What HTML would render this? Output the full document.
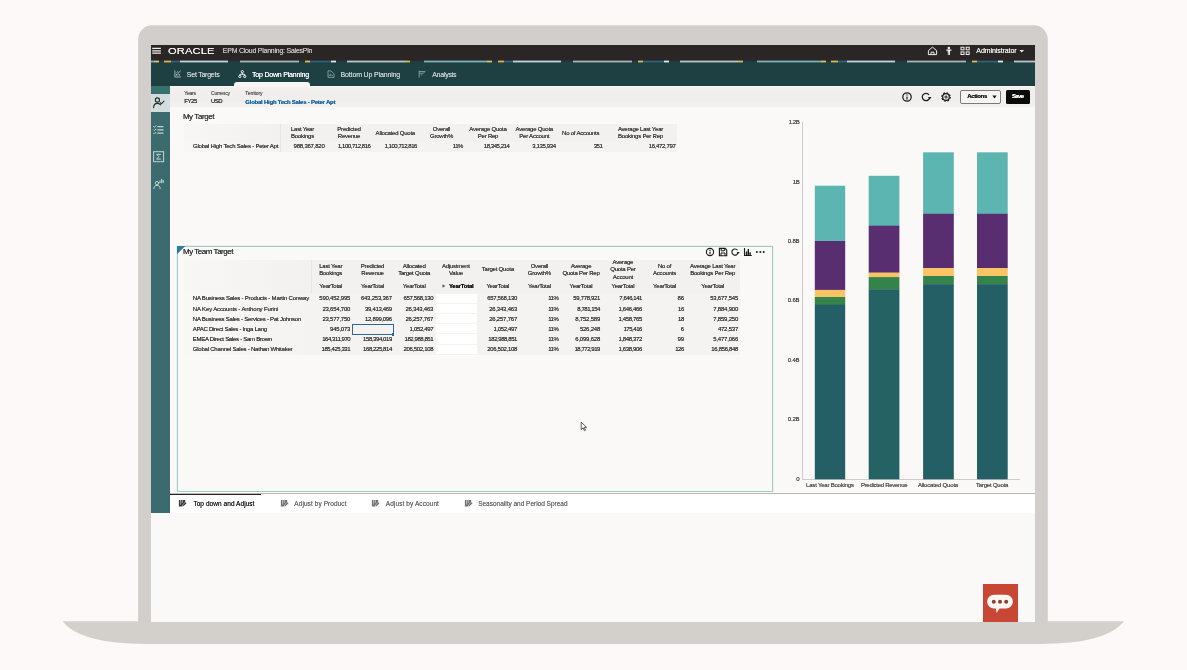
<!DOCTYPE html>
<html lang="en"><head><meta charset="utf-8"><title>EPM Cloud Planning: SalesPln</title>
<style>
html,body{margin:0;padding:0}
body{width:1187px;height:670px;overflow:hidden;position:relative;background:#fcf9f8;font-family:"Liberation Sans", sans-serif;}
#stage{position:absolute;left:0;top:0;width:1187px;height:670px;overflow:hidden}
#stage div,#stage .abs{position:absolute}
.t{position:absolute;white-space:nowrap;line-height:1;text-shadow:0 0 0.3px currentColor;}
.b{text-shadow:0 0 0.2px currentColor}
</style></head><body><div id="stage">
<svg class="abs" style="left:0px;top:0px" width="1187" height="670" viewBox="0 0 1187 670">
<path d="M138.2 622 V39.3 A14 14 0 0 1 152.2 25.3 H1033.8 A14 14 0 0 1 1047.8 39.3 V622 Z" fill="#d2cecb"/>
<path d="M62.5 621.3 H1124 Q1106.5 644 1040.5 644 H146 Q80 644 62.5 621.3 Z" fill="#d3d0cb"/></svg>
<div style="left:151px;top:45px;width:884px;height:576.5px;background:#faf9f7;"></div>
<div style="left:151px;top:45px;width:884px;height:17px;background:#2a2625;"></div>
<div style="left:151px;top:62px;width:884px;height:23.6px;background:#1f4043;"></div>
<div style="left:151px;top:60px;width:884px;height:3px;background:repeating-linear-gradient(90deg,#7fb0b8 0px 3px,#dcc566 3px 8px,#1f3a40 8px 13px,#e0b24e 13px 20px,#33607c 20px 29px,#c3d5dc 29px 77px,#1f3a40 77px 89px,#a9b5b6 89px 148px,#1f3a40 148px 154px,#dcbc55 154px 159px,#2f6076 159px 180px,#dfe8e8 180px 185px,#1f3a40 185px 196px,#b9c8c9 196px 254px,#dcbc55 254px 259px,#1f3a40 259px 273px,#7fb0b8 273px 333.5px);opacity:.4;"></div>
<div style="left:151px;top:61px;width:884px;height:1px;background:repeating-linear-gradient(90deg,#7fb0b8 0px 3px,#dcc566 3px 8px,#1f3a40 8px 13px,#e0b24e 13px 20px,#33607c 20px 29px,#c3d5dc 29px 77px,#1f3a40 77px 89px,#a9b5b6 89px 148px,#1f3a40 148px 154px,#dcbc55 154px 159px,#2f6076 159px 180px,#dfe8e8 180px 185px,#1f3a40 185px 196px,#b9c8c9 196px 254px,#dcbc55 254px 259px,#1f3a40 259px 273px,#7fb0b8 273px 333.5px);"></div>
<div style="left:233.5px;top:82.4px;width:76.5px;height:3.2px;background:#f6f5f3;border-radius:3px 3px 0 0;"></div>
<div style="left:170px;top:85.7px;width:865px;height:21.8px;background:linear-gradient(#fbfaf9 0,#f1f0ee 10%,#efeeec 65%,#f3f2f0 100%);"></div>
<div style="left:151px;top:85.7px;width:19px;height:427.3px;background:#3b6b6e;"></div>
<div style="left:151px;top:85.7px;width:19px;height:7.8px;background:#38706d;"></div>
<div style="left:151px;top:93.5px;width:19px;height:18.3px;background:#d4dddd;"></div>
<span class="t" style="left:168.4px;top:45px;font-size:8.4px;line-height:13px;color:#f4f2f0;letter-spacing:0.1px;transform-origin:0 50%;transform:scaleX(1.33);">ORACLE</span>
<span class="t b" style="left:222.8px;top:47px;font-size:7px;color:#c4c1be;letter-spacing:-0.24px;">EPM Cloud Planning: SalesPln</span>
<span class="t" style="left:976.3px;top:47px;font-size:7px;color:#eeecea;letter-spacing:-0.08px;">Administrator</span>
<span class="t" style="left:186.8px;top:71px;font-size:7px;color:#c3cece;letter-spacing:-0.235px;">Set Targets</span>
<span class="t" style="left:252px;top:71px;font-size:7px;color:#ffffff;letter-spacing:-0.202px;">Top Down Planning</span>
<span class="t" style="left:340.6px;top:71px;font-size:7px;color:#c3cece;letter-spacing:-0.159px;">Bottom Up Planning</span>
<span class="t" style="left:432.2px;top:71px;font-size:7px;color:#c3cece;letter-spacing:-0.235px;">Analysis</span>
<span class="t" style="left:184.2px;top:91px;font-size:5px;color:#585858;letter-spacing:-0.182px;">Years</span>
<span class="t" style="left:184.2px;top:98px;font-size:6px;color:#333;letter-spacing:-0.411px;">FY25</span>
<span class="t" style="left:211px;top:91px;font-size:5px;color:#585858;letter-spacing:-0.187px;">Currency</span>
<span class="t" style="left:211px;top:98px;font-size:6px;color:#333;letter-spacing:-0.491px;">USD</span>
<span class="t" style="left:245.3px;top:91px;font-size:5px;color:#585858;letter-spacing:-0.096px;">Territory</span>
<span class="t b" style="left:245.3px;top:99px;font-size:6px;color:#1c6aa3;font-weight:700;letter-spacing:-0.239px;">Global High Tech Sales - Peter Apt</span>
<div style="left:960.2px;top:89.8px;width:40.8px;height:13.9px;background:#f6f5f3;border:1px solid #7b7977;border-radius:2px;box-sizing:border-box;"></div>
<span class="t b" style="left:967.2px;top:93px;font-size:6px;color:#1c1c1c;font-weight:700;letter-spacing:-0.317px;">Actions</span>
<svg class="abs" style="left:991.5px;top:95.3px" width="5" height="4" viewBox="0 0 5 4"><path d="M0.3 0.5H4.7L2.5 3.5Z" fill="#1c1c1c"/></svg>
<div style="left:1005.8px;top:89.8px;width:23.8px;height:13.9px;background:#0a0a0a;border-radius:1.5px;"></div>
<span class="t b" style="left:1011.9px;top:93px;font-size:6px;color:#fff;font-weight:700;letter-spacing:-0.629px;">Save</span>
<span class="t b" style="left:182.9px;top:113px;font-size:8px;color:#383838;letter-spacing:-0.432px;">My Target</span>
<div style="left:183.5px;top:124px;width:493.3px;height:28.3px;background:#f2f1ef;"></div>
<div style="left:183.5px;top:124px;width:96.5px;height:28.3px;background:linear-gradient(90deg,#f7f6f4,#f2f1ef);"></div>
<div style="left:183.5px;top:141.8px;width:493.3px;height:10.5px;background:rgba(255,255,255,0.18);"></div>
<div style="left:279.6px;top:124px;width:0.8px;height:28.3px;background:#e6e5e3;"></div>
<span class="t" style="left:193px;top:143px;font-size:6px;color:#383838;letter-spacing:-0.208px;">Global High Tech Sales - Peter Apt</span>
<span class="t" style="left:302.5px;top:126px;font-size:6px;color:#383838;letter-spacing:-0.222px;transform:translateX(-50%);">Last Year</span>
<span class="t" style="left:302.5px;top:133px;font-size:6px;color:#383838;letter-spacing:-0.222px;transform:translateX(-50%);">Bookings</span>
<span class="t" style="left:349px;top:126px;font-size:6px;color:#383838;letter-spacing:-0.222px;transform:translateX(-50%);">Predicted</span>
<span class="t" style="left:349px;top:133px;font-size:6px;color:#383838;letter-spacing:-0.222px;transform:translateX(-50%);">Revenue</span>
<span class="t" style="left:395.3px;top:130px;font-size:6px;color:#383838;letter-spacing:-0.222px;transform:translateX(-50%);">Allocated Quota</span>
<span class="t" style="left:441.5px;top:126px;font-size:6px;color:#383838;letter-spacing:-0.222px;transform:translateX(-50%);">Overall</span>
<span class="t" style="left:441.5px;top:133px;font-size:6px;color:#383838;letter-spacing:-0.222px;transform:translateX(-50%);">Growth%</span>
<span class="t" style="left:488px;top:126px;font-size:6px;color:#383838;letter-spacing:-0.222px;transform:translateX(-50%);">Average Quota</span>
<span class="t" style="left:488px;top:133px;font-size:6px;color:#383838;letter-spacing:-0.222px;transform:translateX(-50%);">Per Rep</span>
<span class="t" style="left:534.3px;top:126px;font-size:6px;color:#383838;letter-spacing:-0.222px;transform:translateX(-50%);">Average Quota</span>
<span class="t" style="left:534.3px;top:133px;font-size:6px;color:#383838;letter-spacing:-0.222px;transform:translateX(-50%);">Per Account</span>
<span class="t" style="left:580.7px;top:130px;font-size:6px;color:#383838;letter-spacing:-0.222px;transform:translateX(-50%);">No of Accounts</span>
<span class="t" style="left:640.5px;top:126px;font-size:6px;color:#383838;letter-spacing:-0.222px;transform:translateX(-50%);">Average Last Year</span>
<span class="t" style="left:640.5px;top:133px;font-size:6px;color:#383838;letter-spacing:-0.222px;transform:translateX(-50%);">Bookings Per Rep</span>
<span class="t" style="left:324.5px;top:143px;font-size:6px;color:#383838;letter-spacing:-0.224px;transform:translateX(-100%);">988,367,820</span>
<span class="t" style="left:370.5px;top:143px;font-size:6px;color:#383838;letter-spacing:-0.45px;transform:translateX(-100%);">1,100,712,816</span>
<span class="t" style="left:417px;top:143px;font-size:6px;color:#383838;letter-spacing:-0.45px;transform:translateX(-100%);">1,100,712,816</span>
<span class="t" style="left:463px;top:143px;font-size:6px;color:#383838;letter-spacing:-0.45px;transform:translateX(-100%);">11%</span>
<span class="t" style="left:509.4px;top:143px;font-size:6px;color:#383838;letter-spacing:-0.446px;transform:translateX(-100%);">18,345,214</span>
<span class="t" style="left:555.8px;top:143px;font-size:6px;color:#383838;letter-spacing:-0.347px;transform:translateX(-100%);">3,135,934</span>
<span class="t" style="left:602.3px;top:143px;font-size:6px;color:#383838;letter-spacing:-0.45px;transform:translateX(-100%);">351</span>
<span class="t" style="left:675.4px;top:143px;font-size:6px;color:#383838;letter-spacing:-0.335px;transform:translateX(-100%);">16,472,797</span>
<div style="left:177px;top:245.5px;width:596.4px;height:246.5px;background:#faf9f7;border:1px solid #a2cbc6;box-sizing:border-box;box-shadow:0 0 1px #a2cbc6;"></div>
<svg class="abs" style="left:177px;top:245.5px" width="9" height="9" viewBox="0 0 9 9"><path d="M0 0H8.3L0 8.3Z" fill="#2a7ea6"/></svg>
<span class="t b" style="left:183px;top:248px;font-size:8px;color:#383838;letter-spacing:-0.473px;">My Team Target</span>
<div style="left:183.5px;top:259.8px;width:556.3px;height:95.7px;background:#f2f1ef;"></div>
<div style="left:183.5px;top:259.8px;width:127.5px;height:95.7px;background:linear-gradient(90deg,#f8f7f5,#f2f1ef);"></div>
<div style="left:183.5px;top:293px;width:556.3px;height:62.5px;background:rgba(255,255,255,0.15);"></div>
<div style="left:310.6px;top:259.8px;width:0.8px;height:33.2px;background:#e6e5e3;"></div>
<span class="t" style="left:330.7px;top:263px;font-size:6px;color:#383838;letter-spacing:-0.222px;transform:translateX(-50%);">Last Year</span>
<span class="t" style="left:330.7px;top:270px;font-size:6px;color:#383838;letter-spacing:-0.222px;transform:translateX(-50%);">Bookings</span>
<span class="t" style="left:372.5px;top:263px;font-size:6px;color:#383838;letter-spacing:-0.222px;transform:translateX(-50%);">Predicted</span>
<span class="t" style="left:372.5px;top:270px;font-size:6px;color:#383838;letter-spacing:-0.222px;transform:translateX(-50%);">Revenue</span>
<span class="t" style="left:414.2px;top:263px;font-size:6px;color:#383838;letter-spacing:-0.222px;transform:translateX(-50%);">Allocated</span>
<span class="t" style="left:414.2px;top:270px;font-size:6px;color:#383838;letter-spacing:-0.222px;transform:translateX(-50%);">Target Quota</span>
<span class="t" style="left:455.9px;top:263px;font-size:6px;color:#383838;letter-spacing:-0.222px;transform:translateX(-50%);">Adjustment</span>
<span class="t" style="left:455.9px;top:270px;font-size:6px;color:#383838;letter-spacing:-0.222px;transform:translateX(-50%);">Value</span>
<span class="t" style="left:497.8px;top:266px;font-size:6px;color:#383838;letter-spacing:-0.222px;transform:translateX(-50%);">Target Quota</span>
<span class="t" style="left:539.4px;top:263px;font-size:6px;color:#383838;letter-spacing:-0.222px;transform:translateX(-50%);">Overall</span>
<span class="t" style="left:539.4px;top:270px;font-size:6px;color:#383838;letter-spacing:-0.222px;transform:translateX(-50%);">Growth%</span>
<span class="t" style="left:581px;top:263px;font-size:6px;color:#383838;letter-spacing:-0.222px;transform:translateX(-50%);">Average</span>
<span class="t" style="left:581px;top:270px;font-size:6px;color:#383838;letter-spacing:-0.222px;transform:translateX(-50%);">Quota Per Rep</span>
<span class="t" style="left:622.9px;top:259px;font-size:6px;color:#383838;letter-spacing:-0.222px;transform:translateX(-50%);">Average</span>
<span class="t" style="left:622.9px;top:266px;font-size:6px;color:#383838;letter-spacing:-0.222px;transform:translateX(-50%);">Quota Per</span>
<span class="t" style="left:622.9px;top:274px;font-size:6px;color:#383838;letter-spacing:-0.222px;transform:translateX(-50%);">Account</span>
<span class="t" style="left:664.5px;top:263px;font-size:6px;color:#383838;letter-spacing:-0.222px;transform:translateX(-50%);">No of</span>
<span class="t" style="left:664.5px;top:270px;font-size:6px;color:#383838;letter-spacing:-0.222px;transform:translateX(-50%);">Accounts</span>
<span class="t" style="left:712.6px;top:263px;font-size:6px;color:#383838;letter-spacing:-0.222px;transform:translateX(-50%);">Average Last Year</span>
<span class="t" style="left:712.6px;top:270px;font-size:6px;color:#383838;letter-spacing:-0.222px;transform:translateX(-50%);">Bookings Per Rep</span>
<span class="t" style="left:330.7px;top:283px;font-size:6px;color:#383838;letter-spacing:-0.222px;transform:translateX(-50%);">YearTotal</span>
<span class="t" style="left:372.5px;top:283px;font-size:6px;color:#383838;letter-spacing:-0.222px;transform:translateX(-50%);">YearTotal</span>
<span class="t" style="left:414.2px;top:283px;font-size:6px;color:#383838;letter-spacing:-0.222px;transform:translateX(-50%);">YearTotal</span>
<span class="t b" style="left:461.2px;top:283px;font-size:6px;color:#111;font-weight:700;letter-spacing:-0.222px;transform:translateX(-50%);">YearTotal</span>
<svg class="abs" style="left:442px;top:284.4px" width="4" height="4" viewBox="0 0 4 4"><path d="M.5 .3L3.3 2 .5 3.7Z" fill="#555"/></svg>
<span class="t" style="left:497.8px;top:283px;font-size:6px;color:#383838;letter-spacing:-0.222px;transform:translateX(-50%);">YearTotal</span>
<span class="t" style="left:539.4px;top:283px;font-size:6px;color:#383838;letter-spacing:-0.222px;transform:translateX(-50%);">YearTotal</span>
<span class="t" style="left:581px;top:283px;font-size:6px;color:#383838;letter-spacing:-0.222px;transform:translateX(-50%);">YearTotal</span>
<span class="t" style="left:622.9px;top:283px;font-size:6px;color:#383838;letter-spacing:-0.222px;transform:translateX(-50%);">YearTotal</span>
<span class="t" style="left:664.5px;top:283px;font-size:6px;color:#383838;letter-spacing:-0.222px;transform:translateX(-50%);">YearTotal</span>
<span class="t" style="left:712.6px;top:283px;font-size:6px;color:#383838;letter-spacing:-0.222px;transform:translateX(-50%);">YearTotal</span>
<div style="left:435.8px;top:293.8px;width:41.2px;height:9.2px;background:#ffffff;"></div>
<span class="t" style="left:192.8px;top:295px;font-size:6px;color:#383838;letter-spacing:-0.201px;">NA Business Sales - Products - Martin Conway</span>
<span class="t" style="left:350.2px;top:295px;font-size:6px;color:#383838;letter-spacing:-0.224px;transform:translateX(-100%);">590,452,995</span>
<span class="t" style="left:391.8px;top:295px;font-size:6px;color:#383838;letter-spacing:-0.224px;transform:translateX(-100%);">643,253,367</span>
<span class="t" style="left:433.2px;top:295px;font-size:6px;color:#383838;letter-spacing:-0.325px;transform:translateX(-100%);">657,568,130</span>
<span class="t" style="left:517px;top:295px;font-size:6px;color:#383838;letter-spacing:-0.325px;transform:translateX(-100%);">657,568,130</span>
<span class="t" style="left:558.4px;top:295px;font-size:6px;color:#383838;letter-spacing:-0.45px;transform:translateX(-100%);">11%</span>
<span class="t" style="left:600px;top:295px;font-size:6px;color:#383838;letter-spacing:-0.335px;transform:translateX(-100%);">59,778,921</span>
<span class="t" style="left:642px;top:295px;font-size:6px;color:#383838;letter-spacing:-0.45px;transform:translateX(-100%);">7,646,141</span>
<span class="t" style="left:683.8px;top:295px;font-size:6px;color:#383838;letter-spacing:-0.226px;transform:translateX(-100%);">86</span>
<span class="t" style="left:738px;top:295px;font-size:6px;color:#383838;letter-spacing:-0.224px;transform:translateX(-100%);">53,677,545</span>
<div style="left:435.8px;top:303.97px;width:41.2px;height:9.2px;background:#ffffff;"></div>
<span class="t" style="left:192.8px;top:306px;font-size:6px;color:#383838;letter-spacing:-0.135px;">NA Key Accounts - Anthony Furini</span>
<span class="t" style="left:350.2px;top:306px;font-size:6px;color:#383838;letter-spacing:-0.224px;transform:translateX(-100%);">23,654,700</span>
<span class="t" style="left:391.8px;top:306px;font-size:6px;color:#383838;letter-spacing:-0.335px;transform:translateX(-100%);">39,413,469</span>
<span class="t" style="left:433.2px;top:306px;font-size:6px;color:#383838;letter-spacing:-0.224px;transform:translateX(-100%);">26,343,463</span>
<span class="t" style="left:517px;top:306px;font-size:6px;color:#383838;letter-spacing:-0.224px;transform:translateX(-100%);">26,343,463</span>
<span class="t" style="left:558.4px;top:306px;font-size:6px;color:#383838;letter-spacing:-0.45px;transform:translateX(-100%);">11%</span>
<span class="t" style="left:600px;top:306px;font-size:6px;color:#383838;letter-spacing:-0.45px;transform:translateX(-100%);">8,781,154</span>
<span class="t" style="left:642px;top:306px;font-size:6px;color:#383838;letter-spacing:-0.347px;transform:translateX(-100%);">1,646,466</span>
<span class="t" style="left:683.8px;top:306px;font-size:6px;color:#383838;letter-spacing:-0.45px;transform:translateX(-100%);">16</span>
<span class="t" style="left:738px;top:306px;font-size:6px;color:#383838;letter-spacing:-0.224px;transform:translateX(-100%);">7,884,900</span>
<div style="left:435.8px;top:314.14px;width:41.2px;height:9.2px;background:#ffffff;"></div>
<span class="t" style="left:192.8px;top:316px;font-size:6px;color:#383838;letter-spacing:-0.227px;">NA Business Sales - Services - Pat Johnson</span>
<span class="t" style="left:350.2px;top:316px;font-size:6px;color:#383838;letter-spacing:-0.224px;transform:translateX(-100%);">23,577,750</span>
<span class="t" style="left:391.8px;top:316px;font-size:6px;color:#383838;letter-spacing:-0.335px;transform:translateX(-100%);">12,899,096</span>
<span class="t" style="left:433.2px;top:316px;font-size:6px;color:#383838;letter-spacing:-0.224px;transform:translateX(-100%);">26,257,767</span>
<span class="t" style="left:517px;top:316px;font-size:6px;color:#383838;letter-spacing:-0.224px;transform:translateX(-100%);">26,257,767</span>
<span class="t" style="left:558.4px;top:316px;font-size:6px;color:#383838;letter-spacing:-0.45px;transform:translateX(-100%);">11%</span>
<span class="t" style="left:600px;top:316px;font-size:6px;color:#383838;letter-spacing:-0.224px;transform:translateX(-100%);">8,752,589</span>
<span class="t" style="left:642px;top:316px;font-size:6px;color:#383838;letter-spacing:-0.347px;transform:translateX(-100%);">1,458,765</span>
<span class="t" style="left:683.8px;top:316px;font-size:6px;color:#383838;letter-spacing:-0.45px;transform:translateX(-100%);">18</span>
<span class="t" style="left:738px;top:316px;font-size:6px;color:#383838;letter-spacing:-0.224px;transform:translateX(-100%);">7,859,250</span>
<div style="left:435.8px;top:324.31px;width:41.2px;height:9.2px;background:#ffffff;"></div>
<span class="t" style="left:192.8px;top:326px;font-size:6px;color:#383838;letter-spacing:-0.274px;">APAC Direct Sales - Inga Lang</span>
<span class="t" style="left:350.2px;top:326px;font-size:6px;color:#383838;letter-spacing:-0.225px;transform:translateX(-100%);">945,073</span>
<span class="t" style="left:433.2px;top:326px;font-size:6px;color:#383838;letter-spacing:-0.347px;transform:translateX(-100%);">1,052,497</span>
<span class="t" style="left:517px;top:326px;font-size:6px;color:#383838;letter-spacing:-0.347px;transform:translateX(-100%);">1,052,497</span>
<span class="t" style="left:558.4px;top:326px;font-size:6px;color:#383838;letter-spacing:-0.45px;transform:translateX(-100%);">11%</span>
<span class="t" style="left:600px;top:326px;font-size:6px;color:#383838;letter-spacing:-0.225px;transform:translateX(-100%);">526,248</span>
<span class="t" style="left:642px;top:326px;font-size:6px;color:#383838;letter-spacing:-0.45px;transform:translateX(-100%);">175,416</span>
<span class="t" style="left:683.8px;top:326px;font-size:6px;color:#383838;letter-spacing:-0.226px;transform:translateX(-100%);">6</span>
<span class="t" style="left:738px;top:326px;font-size:6px;color:#383838;letter-spacing:-0.225px;transform:translateX(-100%);">472,537</span>
<div style="left:435.8px;top:334.48px;width:41.2px;height:9.2px;background:#ffffff;"></div>
<span class="t" style="left:192.8px;top:336px;font-size:6px;color:#383838;letter-spacing:-0.277px;">EMEA Direct Sales - Sam Brown</span>
<span class="t" style="left:350.2px;top:336px;font-size:6px;color:#383838;letter-spacing:-0.45px;transform:translateX(-100%);">164,311,970</span>
<span class="t" style="left:391.8px;top:336px;font-size:6px;color:#383838;letter-spacing:-0.426px;transform:translateX(-100%);">158,394,019</span>
<span class="t" style="left:433.2px;top:336px;font-size:6px;color:#383838;letter-spacing:-0.426px;transform:translateX(-100%);">182,988,851</span>
<span class="t" style="left:517px;top:336px;font-size:6px;color:#383838;letter-spacing:-0.426px;transform:translateX(-100%);">182,988,851</span>
<span class="t" style="left:558.4px;top:336px;font-size:6px;color:#383838;letter-spacing:-0.45px;transform:translateX(-100%);">11%</span>
<span class="t" style="left:600px;top:336px;font-size:6px;color:#383838;letter-spacing:-0.224px;transform:translateX(-100%);">6,099,628</span>
<span class="t" style="left:642px;top:336px;font-size:6px;color:#383838;letter-spacing:-0.347px;transform:translateX(-100%);">1,848,372</span>
<span class="t" style="left:683.8px;top:336px;font-size:6px;color:#383838;letter-spacing:-0.226px;transform:translateX(-100%);">99</span>
<span class="t" style="left:738px;top:336px;font-size:6px;color:#383838;letter-spacing:-0.224px;transform:translateX(-100%);">5,477,066</span>
<div style="left:435.8px;top:344.65px;width:41.2px;height:9.2px;background:#ffffff;"></div>
<span class="t" style="left:192.8px;top:346px;font-size:6px;color:#383838;letter-spacing:-0.225px;">Global Channel Sales - Nathan Whitaker</span>
<span class="t" style="left:350.2px;top:346px;font-size:6px;color:#383838;letter-spacing:-0.426px;transform:translateX(-100%);">185,425,331</span>
<span class="t" style="left:391.8px;top:346px;font-size:6px;color:#383838;letter-spacing:-0.426px;transform:translateX(-100%);">168,225,814</span>
<span class="t" style="left:433.2px;top:346px;font-size:6px;color:#383838;letter-spacing:-0.325px;transform:translateX(-100%);">206,502,108</span>
<span class="t" style="left:517px;top:346px;font-size:6px;color:#383838;letter-spacing:-0.325px;transform:translateX(-100%);">206,502,108</span>
<span class="t" style="left:558.4px;top:346px;font-size:6px;color:#383838;letter-spacing:-0.45px;transform:translateX(-100%);">11%</span>
<span class="t" style="left:600px;top:346px;font-size:6px;color:#383838;letter-spacing:-0.446px;transform:translateX(-100%);">18,772,919</span>
<span class="t" style="left:642px;top:346px;font-size:6px;color:#383838;letter-spacing:-0.347px;transform:translateX(-100%);">1,638,906</span>
<span class="t" style="left:683.8px;top:346px;font-size:6px;color:#383838;letter-spacing:-0.45px;transform:translateX(-100%);">126</span>
<span class="t" style="left:738px;top:346px;font-size:6px;color:#383838;letter-spacing:-0.335px;transform:translateX(-100%);">16,856,848</span>
<div style="left:352.2px;top:324px;width:41.8px;height:11.4px;background:#f4f3f1;border:1px solid #2c6a93;box-sizing:border-box;"></div>
<div style="left:392px;top:333.4px;width:2.4px;height:2.4px;background:#2c6a93;"></div>
<div style="left:170px;top:492px;width:865px;height:21px;background:#ffffff;"></div>
<div style="left:170px;top:493px;width:865px;height:1px;background:#b9b7b4;"></div>
<div style="left:170px;top:493.5px;width:91px;height:1.5px;background:#262626;"></div>
<span class="t" style="left:193.4px;top:501px;font-size:6.5px;color:#222;letter-spacing:0.058px;">Top down and Adjust</span>
<span class="t" style="left:294.3px;top:501px;font-size:6.5px;color:#6e6e6e;letter-spacing:0.079px;">Adjust by Product</span>
<span class="t" style="left:385.8px;top:501px;font-size:6.5px;color:#6e6e6e;letter-spacing:0.09px;">Adjust by Account</span>
<span class="t" style="left:478.2px;top:501px;font-size:6.5px;color:#6e6e6e;letter-spacing:-0.011px;">Seasonality and Period Spread</span>
<div style="left:802px;top:122px;width:0.8px;height:357.2px;background:#cfcdca;"></div>
<div style="left:802px;top:478.8px;width:218px;height:0.8px;background:#cfcdca;"></div>
<span class="t b" style="left:799.3px;top:476px;font-size:6px;color:#4c4c4c;letter-spacing:-0.226px;transform:translateX(-100%);">0</span>
<span class="t b" style="left:799.3px;top:416px;font-size:6px;color:#4c4c4c;letter-spacing:-0.223px;transform:translateX(-100%);">0.2B</span>
<span class="t b" style="left:799.3px;top:357px;font-size:6px;color:#4c4c4c;letter-spacing:-0.223px;transform:translateX(-100%);">0.4B</span>
<span class="t b" style="left:799.3px;top:297px;font-size:6px;color:#4c4c4c;letter-spacing:-0.223px;transform:translateX(-100%);">0.6B</span>
<span class="t b" style="left:799.3px;top:238px;font-size:6px;color:#4c4c4c;letter-spacing:-0.223px;transform:translateX(-100%);">0.8B</span>
<span class="t b" style="left:799.3px;top:179px;font-size:6px;color:#4c4c4c;letter-spacing:-0.45px;transform:translateX(-100%);">1B</span>
<span class="t b" style="left:799.3px;top:119px;font-size:6px;color:#4c4c4c;letter-spacing:-0.45px;transform:translateX(-100%);">1.2B</span>
<svg class="abs" style="left:800px;top:140px" width="230" height="345" viewBox="0 0 230 345"><rect x="14.8" y="45.7" width="30.4" height="55.6" fill="#5cb5b0"/><rect x="14.8" y="101" width="30.4" height="49.2" fill="#592e70"/><rect x="14.8" y="149.9" width="30.4" height="7.4" fill="#f9c466"/><rect x="14.8" y="157" width="30.4" height="8.0" fill="#34834a"/><rect x="14.8" y="164.7" width="30.4" height="174.6" fill="#235f65"/><rect x="68.7" y="35.8" width="30.7" height="50.2" fill="#5cb5b0"/><rect x="68.7" y="85.7" width="30.7" height="47.2" fill="#592e70"/><rect x="68.7" y="132.6" width="30.7" height="4.8" fill="#f9c466"/><rect x="68.7" y="137.1" width="30.7" height="12.5" fill="#34834a"/><rect x="68.7" y="149.3" width="30.7" height="190.0" fill="#246264"/><rect x="123.1" y="12.3" width="30.7" height="61.8" fill="#5cb5b0"/><rect x="123.1" y="73.8" width="30.7" height="54.5" fill="#592e70"/><rect x="123.1" y="128" width="30.7" height="8.3" fill="#f9c466"/><rect x="123.1" y="136" width="30.7" height="8.5" fill="#34834a"/><rect x="123.1" y="144.2" width="30.7" height="195.1" fill="#235f65"/><rect x="177" y="12.3" width="30.7" height="61.8" fill="#5cb5b0"/><rect x="177" y="73.8" width="30.7" height="54.5" fill="#592e70"/><rect x="177" y="128" width="30.7" height="8.3" fill="#f9c466"/><rect x="177" y="136" width="30.7" height="8.5" fill="#34834a"/><rect x="177" y="144.2" width="30.7" height="195.1" fill="#235f65"/></svg>
<span class="t" style="left:829.9px;top:482px;font-size:6px;color:#505050;letter-spacing:-0.21px;transform:translateX(-50%);">Last Year Bookings</span>
<span class="t" style="left:884.1px;top:482px;font-size:6px;color:#505050;letter-spacing:-0.273px;transform:translateX(-50%);">Predicted Revenue</span>
<span class="t" style="left:938px;top:482px;font-size:6px;color:#505050;letter-spacing:-0.174px;transform:translateX(-50%);">Allocated Quota</span>
<span class="t" style="left:992.1px;top:482px;font-size:6px;color:#505050;letter-spacing:-0.199px;transform:translateX(-50%);">Target Quota</span>
<div style="left:983px;top:584px;width:35px;height:37.6px;background:#c74634;"></div>
<svg class="abs" style="left:983px;top:584px" width="35" height="38" viewBox="0 0 35 38"><path d="M11 10.8h12a6.9 6.9 0 0 1 0 13.8h-6.4l-3.1 4.4-.5-4.4h-2a6.9 6.9 0 0 1 0-13.8z" fill="#fdf6f3"/>
<circle cx="10.8" cy="17.7" r="1.95" fill="#93392f"/><circle cx="17" cy="17.7" r="1.95" fill="#93392f"/><circle cx="23.2" cy="17.7" r="1.95" fill="#93392f"/></svg>
<svg class="abs" style="left:151px;top:45px" width="12" height="12" viewBox="0 0 12 12"><path d="M1.2 3.4h8.7M1.2 5.8h8.7M1.2 8.2h8.7" stroke="#f1efed" stroke-width="1.2" fill="none"/></svg>
<svg class="abs" style="left:926px;top:45px" width="46" height="12" viewBox="0 0 46 12"><g fill="none" stroke="#f1efed" stroke-width="1" stroke-linejoin="round">
<path d="M2.4 5.6L6.5 2.1l4.1 3.5v4H2.4z"/><path d="M5 9.6V7.2h3v2.4"/>
</g>
<g fill="#f1efed"><circle cx="22.9" cy="2.9" r="1.25"/><path d="M20.3 4.6h5.2v1.1h-1.5v4.2h-.9V7.6h-.4v2.3h-.9V5.7h-1.5z"/></g>
<g fill="none" stroke="#f1efed" stroke-width="1"><rect x="35" y="2.2" width="3" height="2.6"/><rect x="40.2" y="2.2" width="3" height="2.6"/><rect x="35" y="6.9" width="3" height="2.6"/><rect x="40.2" y="6.9" width="3" height="2.6"/></g></svg>
<svg class="abs" style="left:1019px;top:48.5px" width="6" height="5" viewBox="0 0 6 5"><path d="M0.5 0.9H5L2.75 3.6Z" fill="#f1efed"/></svg>
<svg class="abs" style="left:173.7px;top:69.6px" width="8" height="8" viewBox="0 0 8 8"><g fill="none" stroke="#b4c1c2" stroke-width="0.9"><path d="M0.9 0.6v6.4h6"/><path d="M2.5 5.6V4M4 5.6V3.2M5.5 5.6V4.2"/><path d="M2.3 2.9l1.5-1.2 1 .8L6.6 0.9"/></g></svg>
<svg class="abs" style="left:237.6px;top:69.6px" width="9" height="9" viewBox="0 0 9 9"><g fill="none" stroke="#ffffff" stroke-width="0.9"><circle cx="4.3" cy="1.7" r="1.15"/><path d="M4.3 2.9v1.3M1.9 5.6V4.3h4.8v1.3"/><rect x="0.8" y="5.6" width="2.1" height="1.8" rx=".5"/><rect x="5.7" y="5.6" width="2.1" height="1.8" rx=".5"/></g></svg>
<svg class="abs" style="left:326.6px;top:69.6px" width="9" height="9" viewBox="0 0 9 9"><g fill="none" stroke="#8a9ea0" stroke-width="0.9"><path d="M1 0.9h3l3 3v3.5H1z"/><path d="M2.4 6V4.5M3.8 6V3.8M5.3 6V4.9"/></g></svg>
<svg class="abs" style="left:417.6px;top:69.6px" width="9" height="9" viewBox="0 0 9 9"><g fill="none" stroke="#8a9ea0" stroke-width="0.9"><path d="M1.2 0.7v6.8"/><path d="M1.2 1.5h6L5.4 3.1 1.2 3.4"/><path d="M2.8 5.3l1.5-.8"/></g></svg>
<svg class="abs" style="left:152px;top:96px" width="16" height="14" viewBox="0 0 16 14"><g fill="none" stroke="#1f2a2b" stroke-width="1.1" stroke-linecap="round"><circle cx="5.4" cy="4" r="2.1"/><path d="M1.6 11.6c0-2.6 1.6-4.2 3.8-4.2 1.4 0 2.5.5 3.1 1.5"/><path d="M8.2 6.6l1.2 1.2 2.6-2.7"/></g></svg>
<svg class="abs" style="left:152px;top:124px" width="14" height="12" viewBox="0 0 14 12"><g fill="none" stroke="#c3d4d4" stroke-width="1" stroke-linecap="round"><path d="M1.6 2.6l.8.8 1.5-1.7M1.6 5.9l.8.8 1.5-1.7M1.6 9.2l.8.8 1.5-1.7"/><path d="M5.8 2.6h5.2M5.8 5.9h5.2M5.8 9.2h5.2" stroke-width="1.2"/></g></svg>
<svg class="abs" style="left:152px;top:150px" width="14" height="14" viewBox="0 0 14 14"><g fill="none" stroke="#c3d4d4" stroke-width="1"><rect x="1.6" y="1.7" width="10" height="10"/><path d="M8.8 4.4H4.6l2.3 2.3-2.3 2.4h4.2" stroke-linejoin="round"/></g></svg>
<svg class="abs" style="left:152px;top:177px" width="14" height="14" viewBox="0 0 14 14"><g fill="none" stroke="#c3d4d4" stroke-width="1" stroke-linecap="round"><circle cx="5" cy="6.2" r="1.7"/><path d="M1.8 11.6c0-2 1.3-3.2 3.2-3.2s3.2 1.2 3.2 3.2"/><path d="M8 5.6V3.8M9.6 5.6V2.2M11.2 5.6V3.2" stroke-width="1.1"/></g></svg>
<svg class="abs" style="left:900.8px;top:90.8px" width="12" height="12" viewBox="0 0 12 12"><circle cx="6" cy="6" r="4.2" fill="none" stroke="#1a1a1a" stroke-width="1.25"/><rect x="5.4" y="5.6" width="1.2" height="3" fill="#1a1a1a"/><rect x="5.4" y="3.4" width="1.2" height="1.2" fill="#1a1a1a"/></svg>
<svg class="abs" style="left:919.7px;top:90.8px" width="12" height="12" viewBox="0 0 12 12"><path d="M9.7 6.3A3.7 3.7 0 1 1 9.0 3.8" fill="none" stroke="#1a1a1a" stroke-width="1.2"/><path d="M8 6h3.5L9.7 8.4z" fill="#1a1a1a"/></svg>
<svg class="abs" style="left:939.8px;top:90.8px" width="12" height="12" viewBox="0 0 12 12"><g fill="none" stroke="#1a1a1a"><circle cx="6" cy="6" r="4.15" stroke-width="1.3" stroke-dasharray="1.75 1.51"/><circle cx="6" cy="6" r="3.3" stroke-width="1.2"/><circle cx="6" cy="6" r="1.1" stroke-width="1"/></g></svg>
<svg class="abs" style="left:705.2px;top:247px" width="10" height="10" viewBox="0 0 10 10"><circle cx="5" cy="5" r="3.6" fill="none" stroke="#1a1a1a" stroke-width="1.1"/><rect x="4.45" y="4.6" width="1.1" height="2.6" fill="#1a1a1a"/><rect x="4.45" y="2.8" width="1.1" height="1.1" fill="#1a1a1a"/></svg>
<svg class="abs" style="left:718px;top:247px" width="10" height="10" viewBox="0 0 10 10"><path d="M1.4 1.4h5.7l1.6 1.6v5.7H1.4z" fill="none" stroke="#1a1a1a" stroke-width="1.15"/><path d="M3.2 1.4v2.4h3.2V1.4" fill="none" stroke="#1a1a1a" stroke-width="1"/><path d="M3 8.6V6h4v2.6" fill="none" stroke="#1a1a1a" stroke-width="1"/></svg>
<svg class="abs" style="left:729.6px;top:247px" width="10" height="10" viewBox="0 0 10 10"><path d="M8.1 5.3A3.1 3.1 0 1 1 7.5 3.2" fill="none" stroke="#1a1a1a" stroke-width="1.1"/><path d="M6.6 5h3.1L8.1 7.1z" fill="#1a1a1a"/></svg>
<svg class="abs" style="left:742.8px;top:247px" width="10" height="10" viewBox="0 0 10 10"><path d="M1.5 1v7.5h7.3" fill="none" stroke="#1a1a1a" stroke-width="1.1"/><path d="M3.5 8V4.6M5.3 8V2M7.1 8V5.2" stroke="#1a1a1a" stroke-width="1.4"/></svg>
<svg class="abs" style="left:755px;top:249px" width="11" height="6" viewBox="0 0 11 6"><circle cx="1.9" cy="3" r="1" fill="#1a1a1a"/><circle cx="5.3" cy="3" r="1" fill="#1a1a1a"/><circle cx="8.7" cy="3" r="1" fill="#1a1a1a"/></svg>
<svg class="abs" style="left:177.9px;top:498.8px" width="9" height="9" viewBox="0 0 9 9"><path d="M0.9 0.9h6.3v3.4L4.4 7.4H0.9z" fill="#3a3a3a"/><path d="M2.6 1v4.6M4.3 1v3" stroke="#fff" stroke-width="0.7" opacity=".75"/><path d="M4.2 7.6l.5-1.9 2.7-2.7 1.3 1.3-2.7 2.8z" fill="#3a3a3a" stroke="#fff" stroke-width="0.5"/></svg>
<svg class="abs" style="left:279.6px;top:498.8px" width="9" height="9" viewBox="0 0 9 9"><path d="M0.9 0.9h6.3v3.4L4.4 7.4H0.9z" fill="#707070"/><path d="M2.6 1v4.6M4.3 1v3" stroke="#fff" stroke-width="0.7" opacity=".75"/><path d="M4.2 7.6l.5-1.9 2.7-2.7 1.3 1.3-2.7 2.8z" fill="#707070" stroke="#fff" stroke-width="0.5"/></svg>
<svg class="abs" style="left:371.0px;top:498.8px" width="9" height="9" viewBox="0 0 9 9"><path d="M0.9 0.9h6.3v3.4L4.4 7.4H0.9z" fill="#707070"/><path d="M2.6 1v4.6M4.3 1v3" stroke="#fff" stroke-width="0.7" opacity=".75"/><path d="M4.2 7.6l.5-1.9 2.7-2.7 1.3 1.3-2.7 2.8z" fill="#707070" stroke="#fff" stroke-width="0.5"/></svg>
<svg class="abs" style="left:463.90000000000003px;top:498.8px" width="9" height="9" viewBox="0 0 9 9"><path d="M0.9 0.9h6.3v3.4L4.4 7.4H0.9z" fill="#707070"/><path d="M2.6 1v4.6M4.3 1v3" stroke="#fff" stroke-width="0.7" opacity=".75"/><path d="M4.2 7.6l.5-1.9 2.7-2.7 1.3 1.3-2.7 2.8z" fill="#707070" stroke="#fff" stroke-width="0.5"/></svg>
<svg class="abs" style="left:579.5px;top:421px" width="8" height="11" viewBox="0 0 8 11"><path d="M1.2 1.2v7.3l1.9-1.7 1.3 2.9 1.1-.5-1.3-2.8h2.5z" fill="#fff" stroke="#333" stroke-width="0.8" stroke-linejoin="round"/></svg>
</div></body></html>
